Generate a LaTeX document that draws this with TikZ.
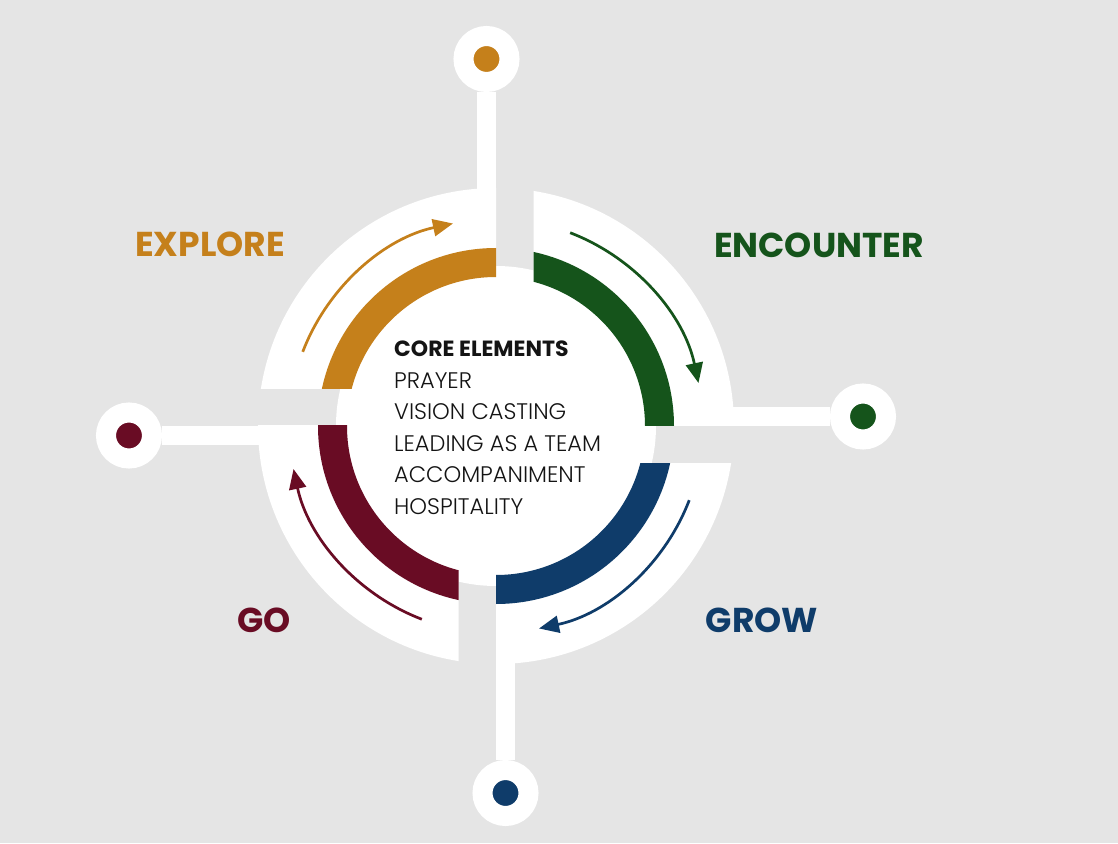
\documentclass[tikz,border=0pt]{standalone}
\usepackage{fontspec}
\setmainfont{Poppins}
\newfontfamily\lightfont{Poppins Light}
\usetikzlibrary{arrows.meta}
\definecolor{paper}{RGB}{229,229,229}
\definecolor{ochre}{RGB}{197,128,27}
\definecolor{forest}{RGB}{21,84,27}
\definecolor{navy}{RGB}{15,60,106}
\definecolor{wine}{RGB}{105,12,36}
\definecolor{ink}{RGB}{20,20,20}
\tikzset{
  >={Triangle[length=20pt,width=17pt]},
  hub/.style={circle,fill=#1,draw=white,line width=20pt,minimum size=46pt,inner sep=0pt},
  stem/.style={draw=white,line width=19pt},
  turn/.style={->,line width=2.7pt,draw=#1},
  phase/.style={font=\bfseries\fontsize{34.5}{34.5}\selectfont,text=#1,inner sep=0pt},
  item/.style={anchor=base west,font=\lightfont\fontsize{22.5}{22.5}\selectfont,text=ink,inner sep=0pt},
}

\begin{document}
\begin{tikzpicture}[x=1pt,y=1pt]
  % background, wheel centred at the origin
  \fill[paper] (-496,-417) rectangle (622,426);
  \useasboundingbox (-496,-417) rectangle (622,426);

  % white quarters, stems and end dots (turned clockwise)
  \foreach \col [count=\i from 0] in {ochre,forest,navy,wine} {
    \begin{scope}[rotate=-90*\i]
      \begin{scope}
        \clip (-250,37.5) rectangle (0,250);
        \fill[white] (0,0) circle (238);
      \end{scope}
      \node[hub=\col] (hub\i) at (-9.5,367) {};
      \coordinate (foot\i) at (-9.5,225);
      \draw[stem] (hub\i) -- (foot\i);
    \end{scope}
  }

  % centre disc
  \fill[white] (0,0) circle (160);

  % coloured bands and arrows
  \foreach \col [count=\i from 0] in {ochre,forest,navy,wine} {
    \begin{scope}[rotate=-90*\i]
      \begin{scope}
        \clip (-250,37.5) rectangle (0,250);
        \fill[\col,even odd rule] (0,0) circle (178) circle (149);
      \end{scope}
      \draw[turn=\col] (159:207) arc (159:102:207);
    \end{scope}
  }

  % phase labels
  \node[phase=ochre] (explore) at (-286,182) {EXPLORE};
  \node[phase=forest] (encounter) at (323,181) {ENCOUNTER};
  \node[phase=navy] (grow) at (266,-194) {GROW};
  \node[phase=wine] (go) at (-232,-194) {GO};

  % core elements
  \node[item,font=\bfseries\fontsize{22}{22}\selectfont] (core) at (-102,69) {CORE ELEMENTS};
  \foreach \t [count=\i] in {PRAYER,VISION CASTING,LEADING AS A TEAM,ACCOMPANIMENT,HOSPITALITY}
    \node[item] (item\i) at (-102,69-31.4*\i) {\t};
\end{tikzpicture}
\end{document}
